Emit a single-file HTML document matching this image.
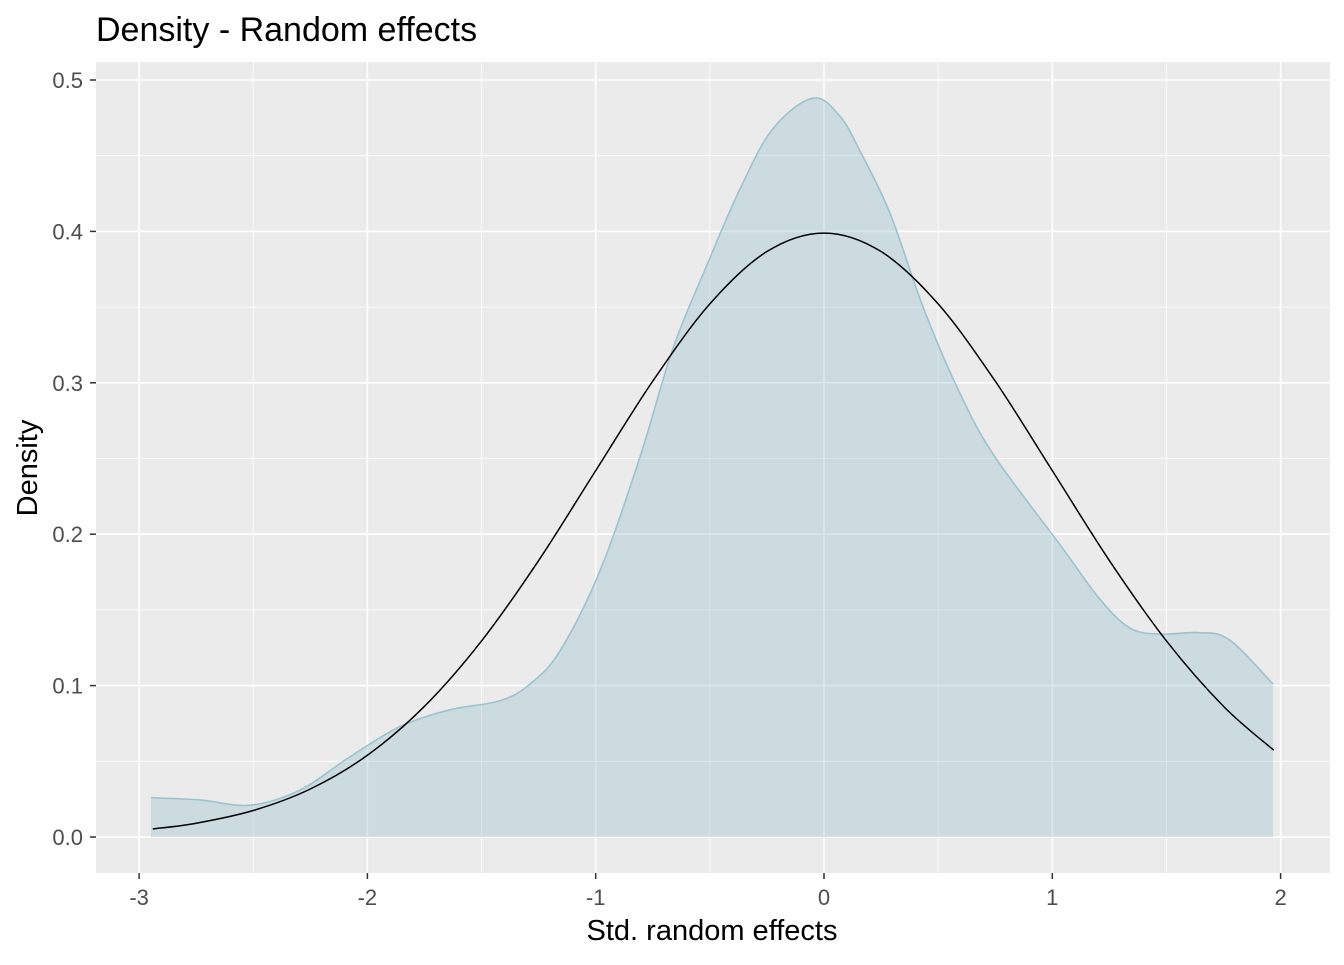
<!DOCTYPE html>
<html><head><meta charset="utf-8"><style>
body{margin:0;background:#fff;font-family:"Liberation Sans",sans-serif;}
svg text{font-family:"Liberation Sans",sans-serif;}
</style></head><body>
<svg id="chart" width="1344" height="960">
<text x="96" y="41" font-size="34" fill="#000">Density - Random effects</text>
<rect x="96" y="62" width="1234" height="811" fill="#EBEBEB"/>
<g id="grid"></g><g id="marks"></g><g id="axes"></g>
<text x="712" y="940" font-size="29" text-anchor="middle" fill="#000">Std. random effects</text>
<text transform="translate(37,468) rotate(-90)" font-size="29" text-anchor="middle" fill="#000">Density</text>
</svg>
<script>
const densX=[-2.948,-2.733,-2.514,-2.295,-2.076,-1.857,-1.638,-1.419,-1.288,-1.156,-0.981,-0.806,-0.661,-0.512,-0.368,-0.223,-0.048,0.070,0.158,0.289,0.434,0.583,0.740,1.034,1.209,1.340,1.472,1.647,1.778,1.967];
const densY=[0.026,0.0245,0.021,0.031,0.053,0.073,0.084,0.090,0.101,0.123,0.176,0.251,0.323,0.378,0.428,0.468,0.488,0.476,0.453,0.412,0.350,0.297,0.253,0.193,0.157,0.138,0.134,0.135,0.130,0.101];
const normX=[-2.94,-2.75,-2.5,-2.25,-2,-1.75,-1.5,-1.25,-1,-0.75,-0.5,-0.25,0,0.25,0.5,0.75,1,1.25,1.5,1.75,1.97];
const normY=[0.0053,0.0091,0.0175,0.0317,0.0540,0.0863,0.1295,0.1826,0.2420,0.3011,0.3521,0.3867,0.3989,0.3867,0.3521,0.3011,0.2420,0.1826,0.1295,0.0863,0.0573];
const xTicks=[-3,-2,-1,0,1,2];
const xTickLabels=["-3","-2","-1","0","1","2"];
const yTicks=[0,0.1,0.2,0.3,0.4,0.5];
const yTickLabels=["0.0","0.1","0.2","0.3","0.4","0.5"];
const NS="http://www.w3.org/2000/svg";
const sx=v=>824+v*228.3, sy=v=>837-v*1514;
function mk(t,a,p){const e=document.createElementNS(NS,t);for(const k in a)e.setAttribute(k,a[k]);p.appendChild(e);return e;}
const grid=document.getElementById('grid'),marks=document.getElementById('marks'),axes=document.getElementById('axes');
for(let i=0;i<xTicks.length;i++){
 const x=sx(xTicks[i]);
 const g=mk('line',{x1:x,x2:x,y1:62,y2:873,stroke:'#fff','stroke-width':1.6},grid);
 
 if(i<xTicks.length-1){const xm=sx((xTicks[i]+xTicks[i+1])/2);
  const m=mk('line',{x1:xm,x2:xm,y1:62,y2:873,stroke:'#fff','stroke-width':0.8},grid);
  }
 const t=mk('line',{x1:x,x2:x,y1:873,y2:879,stroke:'#333','stroke-width':1.5},axes);
 
 const l=mk('text',{x:x,y:905,'font-size':22,'text-anchor':'middle',fill:'#4D4D4D'},axes);l.textContent=xTickLabels[i];
 
}
for(let i=0;i<yTicks.length;i++){
 const y=sy(yTicks[i]);
 const g=mk('line',{x1:96,x2:1330,y1:y,y2:y,stroke:'#fff','stroke-width':1.6},grid);
 
 if(i<yTicks.length-1){const ym=sy((yTicks[i]+yTicks[i+1])/2);
  const m=mk('line',{x1:96,x2:1330,y1:ym,y2:ym,stroke:'#fff','stroke-width':0.8},grid);
  }
 const t=mk('line',{x1:90,x2:96,y1:y,y2:y,stroke:'#333','stroke-width':1.5},axes);
 
 const l=mk('text',{x:83,y:y+8,'font-size':22,'text-anchor':'end',fill:'#4D4D4D'},axes);l.textContent=yTickLabels[i];
 
}
function smooth(xs,ys){
 const p=xs.map((x,i)=>[sx(x),sy(ys[i])]);let d='M'+p[0][0]+','+p[0][1];
 for(let i=0;i<p.length-1;i++){const p0=p[i-1]||p[i],p1=p[i],p2=p[i+1],p3=p[i+2]||p[i+1];
  d+=' C'+(p1[0]+(p2[0]-p0[0])/6)+','+(p1[1]+(p2[1]-p0[1])/6)+' '+(p2[0]-(p3[0]-p1[0])/6)+','+(p2[1]-(p3[1]-p1[1])/6)+' '+p2[0]+','+p2[1];}
 return d;}
const dd=smooth(densX,densY);
const area=mk('path',{d:dd+' L'+sx(densX[densX.length-1])+','+sy(0)+' L'+sx(densX[0])+','+sy(0)+' Z',fill:'#9CC3CF','fill-opacity':0.38},marks);

const dl=mk('path',{d:dd,fill:'none',stroke:'#9CC3CF','stroke-width':1.6},marks);

const nl=mk('path',{d:smooth(normX,normY),fill:'none',stroke:'#000','stroke-width':1.5},marks);

</script>
</body></html>
